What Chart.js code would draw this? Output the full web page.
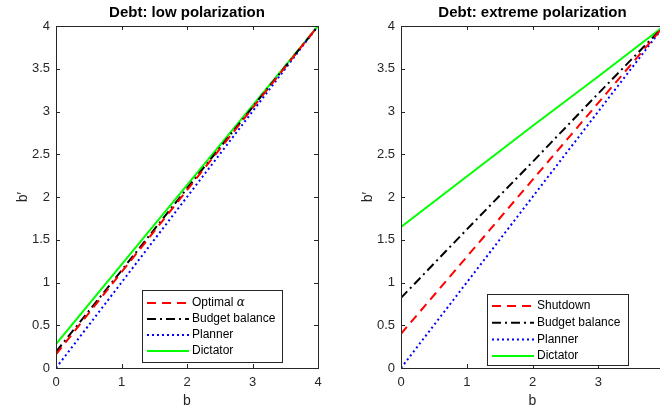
<!DOCTYPE html>
<html lang="en">
<head>
    <meta charset="UTF-8">
    <script src="https://cdn.jsdelivr.net/npm/chart.js"></script>
    <title>Debt policy functions</title>
    <style>
        html, body { margin: 0; padding: 0; background: #fff; width: 660px; height: 408px; overflow: hidden; }
        .panel { position: absolute; top: 0; width: 330px; height: 408px; }
        #leftPanel { left: 0; }
        #rightPanel { left: 345px; }
    </style>
</head>
<body>
    <div class="panel" id="leftPanel"><canvas id="lowChart" width="330" height="408"></canvas></div>
    <div class="panel" id="rightPanel"><canvas id="extremeChart" width="330" height="408"></canvas></div>

    <script>
        // b grid and tick labels
        const bValues = [0, 1, 2, 3, 4];
        const xTicks = [0, 1, 2, 3, 4];
        const yTicks = [0, 0.5, 1, 1.5, 2, 2.5, 3, 3.5, 4];

        // Debt: low polarization (b')
        const lowOptimal = [0.16, 1.12, 2.08, 3.04, 4.0];
        const lowBudget = [0.19, 1.14, 2.1, 3.05, 4.0];
        const lowPlanner = [0, 1, 2, 3, 4];
        const lowDictator = [0.28, 1.21, 2.14, 3.07, 4.0];

        // Debt: extreme polarization
        const extShutdown = [0.4, 1.3, 2.2, 3.1, 4.0];
        const extBudget = [0.82, 1.62, 2.41, 3.21, 4.0];
        const extPlanner = [0, 1, 2, 3, 4];
        const extDictator = [1.65, 2.24, 2.83, 3.41, 4.0];

        const axisColor = '#262626';
        const fontFamily = '"Liberation Sans", Arial, Helvetica, sans-serif';

        function toPoints(ys) {
            return bValues.map((b, i) => ({ x: b, y: ys[i] }));
        }

        function makeSet(label, ys, color, dash) {
            return {
                label: label,
                data: toPoints(ys),
                borderColor: color,
                backgroundColor: color,
                borderWidth: 2,
                borderDash: dash,
                pointRadius: 0,
                tension: 0,
                fill: false
            };
        }

        // draws box, inward ticks, title, axis labels and the legend (matlab look)
        const matlabAxes = {
            id: 'matlabAxes',
            afterDraw(chart, args, opts) {
                const ctx = chart.ctx;
                const area = chart.chartArea;
                const xs = chart.scales.x;
                const ys = chart.scales.y;
                ctx.save();

                // ticks pointing inward on all four sides
                ctx.strokeStyle = axisColor;
                ctx.lineWidth = 1;
                ctx.beginPath();
                xTicks.forEach(v => {
                    const px = Math.round(xs.getPixelForValue(v)) + 0.5;
                    ctx.moveTo(px, area.bottom); ctx.lineTo(px, area.bottom - 4);
                    ctx.moveTo(px, area.top); ctx.lineTo(px, area.top + 4);
                });
                yTicks.forEach(v => {
                    const py = Math.round(ys.getPixelForValue(v)) + 0.5;
                    ctx.moveTo(area.left, py); ctx.lineTo(area.left + 4, py);
                    ctx.moveTo(area.right, py); ctx.lineTo(area.right - 4, py);
                });
                ctx.stroke();

                // box
                ctx.strokeRect(Math.round(area.left) + 0.5, Math.round(area.top) + 0.5,
                    Math.round(area.right - area.left), Math.round(area.bottom - area.top));

                // title
                ctx.fillStyle = '#000';
                ctx.font = 'bold 15px ' + fontFamily;
                ctx.textAlign = 'center';
                ctx.textBaseline = 'middle';
                ctx.fillText(opts.title, (area.left + area.right) / 2, 13);

                // axis labels
                ctx.fillStyle = axisColor;
                ctx.font = '14px ' + fontFamily;
                ctx.fillText('b', (area.left + area.right) / 2, 401);
                ctx.save();
                ctx.translate(23, (area.top + area.bottom) / 2);
                ctx.rotate(-Math.PI / 2);
                ctx.fillText('b\u2032', 0, 0);
                ctx.restore();

                // legend
                const lg = opts.legend;
                ctx.fillStyle = '#fff';
                ctx.fillRect(lg.x, lg.y, lg.w, lg.h);
                ctx.strokeStyle = axisColor;
                ctx.lineWidth = 1;
                ctx.strokeRect(lg.x + 0.5, lg.y + 0.5, lg.w, lg.h);
                chart.data.datasets.forEach((ds, i) => {
                    const cy = lg.y + lg.first + i * lg.step;
                    ctx.strokeStyle = ds.borderColor;
                    ctx.lineWidth = 2;
                    ctx.setLineDash(ds.borderDash || []);
                    ctx.beginPath();
                    ctx.moveTo(lg.x + 5, cy);
                    ctx.lineTo(lg.x + 47, cy);
                    ctx.stroke();
                    ctx.setLineDash([]);

                    ctx.fillStyle = '#000';
                    ctx.textAlign = 'left';
                    ctx.font = '12px ' + fontFamily;
                    const label = ds.label;
                    const tx = lg.x + 50;
                    if (label.endsWith(' \u03b1')) {
                        const head = label.slice(0, -1);
                        ctx.fillText(head, tx, cy);
                        const w = ctx.measureText(head).width;
                        ctx.font = 'italic 12px "DejaVu Serif", serif';
                        ctx.fillText('\u03b1', tx + w, cy);
                    } else {
                        ctx.fillText(label, tx, cy);
                    }
                });
                ctx.restore();
            }
        };

        function buildChart(canvasId, title, datasets, legendBox, rightPad) {
            const ctx = document.getElementById(canvasId).getContext('2d');
            return new Chart(ctx, {
                type: 'line',
                data: { datasets: datasets },
                plugins: [matlabAxes],
                options: {
                    responsive: false,
                    animation: false,
                    layout: { padding: { top: 26, right: rightPad, left: 0, bottom: 0 } },
                    plugins: {
                        legend: { display: false },
                        tooltip: { enabled: false },
                        matlabAxes: { title: title, legend: legendBox }
                    },
                    scales: {
                        x: {
                            type: 'linear',
                            min: 0,
                            max: 4,
                            afterBuildTicks: s => { s.ticks = xTicks.map(v => ({ value: v })); },
                            afterFit: s => { s.height = 40; },
                            grid: { display: false, drawTicks: false },
                            border: { display: false },
                            ticks: {
                                padding: 7,
                                color: axisColor,
                                font: { family: fontFamily, size: 13 },
                                callback: v => String(v)
                            }
                        },
                        y: {
                            type: 'linear',
                            min: 0,
                            max: 4,
                            afterBuildTicks: s => { s.ticks = yTicks.map(v => ({ value: v })); },
                            afterFit: s => { s.width = 56; },
                            grid: { display: false, drawTicks: false },
                            border: { display: false },
                            ticks: {
                                padding: 6,
                                color: axisColor,
                                font: { family: fontFamily, size: 13 },
                                callback: v => String(v)
                            }
                        }
                    }
                }
            });
        }

        buildChart('lowChart', 'Debt: low polarization', [
            makeSet('Optimal \u03b1', lowOptimal, '#ff0000', [9, 6]),
            makeSet('Budget balance', lowBudget, '#000000', [9, 4, 2, 4]),
            makeSet('Planner', lowPlanner, '#0000ff', [2, 3]),
            makeSet('Dictator', lowDictator, '#00ff00', [])
        ], { x: 142, y: 290, w: 140, h: 72, first: 13, step: 16 }, 12);

        buildChart('extremeChart', 'Debt: extreme polarization', [
            makeSet('Shutdown', extShutdown, '#ff0000', [9, 6]),
            makeSet('Budget balance', extBudget, '#000000', [9, 4, 2, 4]),
            makeSet('Planner', extPlanner, '#0000ff', [2, 3]),
            makeSet('Dictator', extDictator, '#00ff00', [])
        ], { x: 142, y: 294, w: 141, h: 71, first: 12, step: 16.7 }, 11);
    </script>
</body>
</html>
